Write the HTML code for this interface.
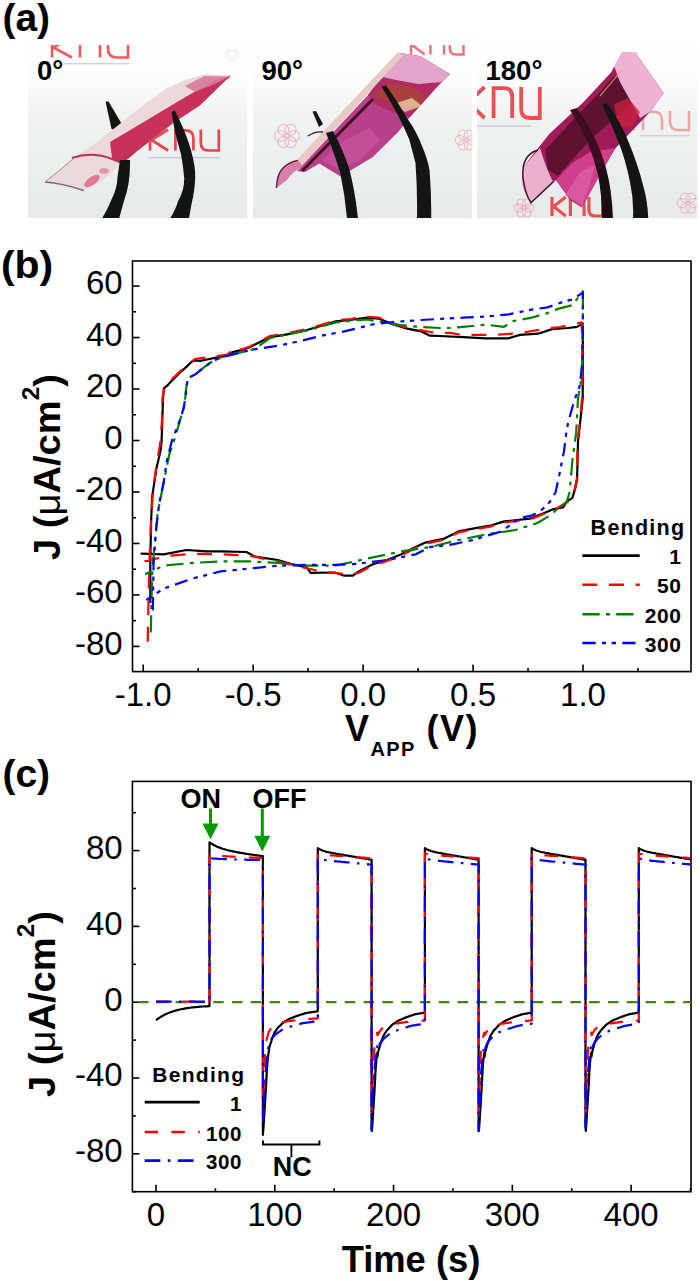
<!DOCTYPE html><html><head><meta charset="utf-8"><style>html,body{margin:0;padding:0;background:#fff;}svg{display:block;}text{font-family:"Liberation Sans",sans-serif;}</style></head><body>
<svg width="700" height="1281" viewBox="0 0 700 1281">
<rect width="700" height="1281" fill="#fff"/>
<text transform="translate(2.40,30.60) scale(1.0,1)" font-size="39" font-weight="bold" text-anchor="start" fill="#000" >(a)</text>
<defs>
<clipPath id="p1"><rect x="28" y="45" width="219.5" height="173"/></clipPath>
<clipPath id="p2"><rect x="253" y="45" width="219.5" height="173"/></clipPath>
<clipPath id="p3"><rect x="477" y="45" width="220.3" height="173"/></clipPath>
<linearGradient id="bg" x1="0" y1="0" x2="0" y2="1"><stop offset="0" stop-color="#ffffff"/><stop offset="0.18" stop-color="#fdfdfd"/><stop offset="0.4" stop-color="#f1f3f3"/><stop offset="1" stop-color="#e6eaea"/></linearGradient>
<linearGradient id="f1" gradientUnits="userSpaceOnUse" x1="140" y1="108" x2="158" y2="140"><stop offset="0" stop-color="#efe0e0"/><stop offset="0.45" stop-color="#ead0d4"/><stop offset="0.55" stop-color="#d2506e"/><stop offset="1" stop-color="#c23058"/></linearGradient>
<linearGradient id="tw" x1="0" y1="0" x2="1" y2="0"><stop offset="0" stop-color="#0c0c0c"/><stop offset="0.6" stop-color="#1e1e1e"/><stop offset="1" stop-color="#101010"/></linearGradient>
<linearGradient id="twl" gradientUnits="userSpaceOnUse" x1="0" y1="160" x2="0" y2="178"><stop offset="0" stop-color="#3c0c20"/><stop offset="1" stop-color="#161014"/></linearGradient>
</defs>
<g clip-path="url(#p1)">
<rect x="28" y="45" width="219.5" height="173" fill="url(#bg)"/>
<path d="M52.0,57.5 v-20.0 M72.0,37.5 L53.3,47.5 L72.0,57.5 M80.0,57.5 v-19.2 h11.0 q9.0,0 9.0,9.0 V57.5 M108.0,37.5 V48.5 q0,9.0 9.0,9.0 h11.0 v-20.0" fill="none" stroke="#e8474a" stroke-width="2.6" opacity="0.9"/>
<rect x="64" y="63" width="66" height="1.3" fill="#aab0c4" opacity="0.6"/>
<path d="M150.0,150.5 v-21.0 M168.1,129.5 L151.4,140.0 L168.1,150.5 M175.4,150.5 v-20.2 h9.9 q8.1,0 8.1,8.1 V150.5 M200.8,129.5 V142.4 q0,8.1 8.1,8.1 h9.9 v-21.0" fill="none" stroke="#e8474a" stroke-width="2.7" opacity="1.0"/>
<rect x="148" y="157" width="72" height="1.3" fill="#aab0c4" opacity="0.6"/>
<circle cx="232" cy="55" r="5" fill="none" stroke="#eaa" stroke-width="1" opacity="0.5"/>
<polygon points="105.5,101.5 108.5,101.5 124.5,128.5 118.0,131.0 111.5,129.0" fill="#141414" />
<polygon points="45.3,181.9 60.0,170.0 75.2,157.0 94.0,144.0 116.0,127.0 137.0,110.0 165.3,89.0 185.0,80.0 204.6,74.2 231.3,75.7 225.0,81.0 199.9,105.6 173.2,122.9 137.0,151.2 122.3,163.8 116.0,168.5 101.9,181.0 83.8,190.5 60.0,186.0" fill="#ecd9dc" />
<polygon points="110.0,142.0 137.0,126.0 184.2,97.7 215.0,80.0 231.3,75.7 225.0,81.0 199.9,105.6 173.2,122.9 137.0,151.2 122.3,163.8 112.0,158.0" fill="#c8325a" />
<polygon points="185.0,86.0 204.6,76.0 229.0,76.5 215.0,84.0 195.0,92.0" fill="#d87a96" opacity="0.9"/>
<path d="M72,158 Q92,151 112,159 L122,163" fill="none" stroke="#b83058" stroke-width="2"/>
<ellipse cx="92" cy="181" rx="9" ry="4" fill="#e0607e" opacity="0.8" transform="rotate(-35 92 181)"/>
<ellipse cx="104" cy="171" rx="5" ry="3" fill="#e07a92" opacity="0.7"/>
<path d="M45,182 Q62,183 83.8,190.5" fill="none" stroke="#7a6a70" stroke-width="1.5"/>
<path d="M45.3,181.9 L60,170 L75.2,157" fill="none" stroke="#a08890" stroke-width="1"/>
<path d="M120,160 L130,160 Q130.5,183 124.3,199.7 L119.1,218.5 L102,218.5 Q108,208 110.6,201.4 Q117.5,188 117.4,178 Z" fill="#141414" />
<path d="M171.6,111.9 L174.7,110.3 Q182,125 184.2,130.7 Q190,145 192,154.3 Q195.5,167 195.2,177.9 Q194.5,192 192,201.5 L188.9,218.5 L170,218.5 Q176,209 177.9,201.5 Q184.5,190 184.2,177.9 Q183,165 181,154.3 Q177,140 174.7,130.7 Z" fill="#141414" />
</g>
<g clip-path="url(#p2)">
<rect x="253" y="45" width="219.5" height="173" fill="url(#bg)"/>
<path d="M411.0,54.5 v-19.0 M424.7,35.5 L412.2,45.0 L424.7,54.5 M430.4,54.5 v-18.2 h7.5 q6.2,0 6.2,6.2 V54.5 M449.8,35.5 V48.3 q0,6.2 6.2,6.2 h7.5 v-19.0" fill="none" stroke="#e8474a" stroke-width="2.5" opacity="0.75"/>
<circle cx="294.1" cy="136.0" r="5.5" fill="none" stroke="#ec9aa2" stroke-width="1.2" opacity="0.6"/>
<circle cx="290.6" cy="142.2" r="5.5" fill="none" stroke="#ec9aa2" stroke-width="1.2" opacity="0.6"/>
<circle cx="283.4" cy="142.2" r="5.5" fill="none" stroke="#ec9aa2" stroke-width="1.2" opacity="0.6"/>
<circle cx="279.9" cy="136.0" r="5.5" fill="none" stroke="#ec9aa2" stroke-width="1.2" opacity="0.6"/>
<circle cx="283.4" cy="129.8" r="5.5" fill="none" stroke="#ec9aa2" stroke-width="1.2" opacity="0.6"/>
<circle cx="290.6" cy="129.8" r="5.5" fill="none" stroke="#ec9aa2" stroke-width="1.2" opacity="0.6"/>
<circle cx="472.1" cy="140.0" r="4.6" fill="none" stroke="#ec9aa2" stroke-width="1.2" opacity="0.5"/>
<circle cx="469.0" cy="145.2" r="4.6" fill="none" stroke="#ec9aa2" stroke-width="1.2" opacity="0.5"/>
<circle cx="463.0" cy="145.2" r="4.6" fill="none" stroke="#ec9aa2" stroke-width="1.2" opacity="0.5"/>
<circle cx="459.9" cy="140.0" r="4.6" fill="none" stroke="#ec9aa2" stroke-width="1.2" opacity="0.5"/>
<circle cx="463.0" cy="134.8" r="4.6" fill="none" stroke="#ec9aa2" stroke-width="1.2" opacity="0.5"/>
<circle cx="469.0" cy="134.8" r="4.6" fill="none" stroke="#ec9aa2" stroke-width="1.2" opacity="0.5"/>
<polygon points="297.0,171.0 340.0,125.0 372.0,90.7 396.0,65.0 420.0,70.0 436.0,88.0 410.0,117.0 398.6,131.4 372.9,157.1 340.7,176.4 319.3,163.6 305.0,172.0" fill="#b8408a" />
<polygon points="322.0,160.0 345.0,140.0 370.0,128.0 380.0,140.0 360.0,160.0 340.0,170.0" fill="#c85aa0" opacity="0.6"/>
<polygon points="368.0,95.0 380.0,78.0 400.0,53.0 420.0,56.0 450.0,74.0 436.0,88.0 410.0,117.0 392.0,112.0 375.0,104.0" fill="#b02a64" />
<polygon points="378.0,76.0 400.0,53.0 420.0,56.0 450.0,74.0 442.0,82.0 418.0,84.0 396.0,80.0" fill="#e2a4c8" />
<polygon points="372.0,96.0 388.0,84.0 410.0,86.0 425.0,96.0 418.0,108.0 400.0,104.0" fill="#a8482e" opacity="0.7"/>
<polygon points="393.0,104.0 412.0,98.0 422.0,106.0 405.0,112.0" fill="#f0d8a8" opacity="0.75"/>
<polygon points="292.0,165.0 398.0,52.0 403.0,55.5 297.0,171.0" fill="#e8cac6" />
<path d="M302,171 L373,99" stroke="#40121e" stroke-width="3"/>
<path d="M276.4,188 Q277,174 283,168 Q289,162 297.9,160.4 L303,166 Q292,172 287,180 Z" fill="#d878a8" opacity="0.95"/>
<path d="M276.4,188 Q277,174 283,168 Q289,162 297.9,160.4" fill="none" stroke="#5a1a34" stroke-width="1.4"/>
<path d="M308,136 Q315,131 323,132" fill="none" stroke="#3a1a24" stroke-width="1.3"/>
<polygon points="312.5,111.5 316.0,111.0 323.0,124.0 319.0,127.0" fill="#141414" />
<path d="M326,133 L333,131 Q343,150 349,168 Q355,190 358,218.5 L347,218.5 Q345,195 340,172 Q333,150 326,133 Z" fill="#141414" />
<path d="M381.4,86.4 L386,85.5 Q398,102 407.6,118.9 Q417,132 421.8,145.6 Q428,160 429.6,170.8 Q431.5,195 431.2,218.5 L417,218.5 Q417.5,190 415.5,162.9 Q412,150 409.2,139.3 Q404,127 398.2,115.8 Q390,100 381.4,86.4 Z" fill="#141414" />
</g>
<g clip-path="url(#p3)">
<rect x="477" y="45" width="220.3" height="173" fill="url(#bg)"/>
<path d="M466.0,118.0 v-31.0 M484.6,87.0 L467.9,102.5 L484.6,118.0 M493.6,118.0 v-29.8 h10.2 q8.4,0 8.4,8.4 V118.0 M521.2,87.0 V109.6 q0,8.4 8.4,8.4 h10.2 v-31.0" fill="none" stroke="#e8474a" stroke-width="3.8" opacity="0.95"/>
<rect x="477" y="125.5" width="54" height="1.3" fill="#aab0c4" opacity="0.6"/>
<path d="M616.0,130.0 v-19.0 M635.0,111.0 L617.2,120.5 L635.0,130.0 M643.0,130.0 v-18.2 h10.4 q8.6,0 8.6,8.6 V130.0 M670.0,111.0 V121.5 q0,8.6 8.6,8.6 h10.4 v-19.0" fill="none" stroke="#f09a9a" stroke-width="2.5" opacity="0.9"/>
<rect x="640" y="135" width="50" height="1.2" fill="#aab0c4" opacity="0.5"/>
<path d="M552.0,216.0 v-19.0 M565.7,197.0 L553.6,206.5 L565.7,216.0 M570.4,216.0 v-18.2 h7.5 q6.2,0 6.2,6.2 V216.0 M588.9,197.0 V209.8 q0,6.2 6.2,6.2 h7.5 v-19.0" fill="none" stroke="#e8474a" stroke-width="3.2" opacity="0.95"/>
<circle cx="529.5" cy="208.0" r="4.2" fill="none" stroke="#ec9aa2" stroke-width="1.2" opacity="0.6"/>
<circle cx="526.8" cy="212.8" r="4.2" fill="none" stroke="#ec9aa2" stroke-width="1.2" opacity="0.6"/>
<circle cx="521.2" cy="212.8" r="4.2" fill="none" stroke="#ec9aa2" stroke-width="1.2" opacity="0.6"/>
<circle cx="518.5" cy="208.0" r="4.2" fill="none" stroke="#ec9aa2" stroke-width="1.2" opacity="0.6"/>
<circle cx="521.2" cy="203.2" r="4.2" fill="none" stroke="#ec9aa2" stroke-width="1.2" opacity="0.6"/>
<circle cx="526.8" cy="203.2" r="4.2" fill="none" stroke="#ec9aa2" stroke-width="1.2" opacity="0.6"/>
<circle cx="694.0" cy="203.0" r="4.6" fill="none" stroke="#ec9aa2" stroke-width="1.2" opacity="0.5"/>
<circle cx="691.0" cy="208.2" r="4.6" fill="none" stroke="#ec9aa2" stroke-width="1.2" opacity="0.5"/>
<circle cx="685.0" cy="208.2" r="4.6" fill="none" stroke="#ec9aa2" stroke-width="1.2" opacity="0.5"/>
<circle cx="682.0" cy="203.0" r="4.6" fill="none" stroke="#ec9aa2" stroke-width="1.2" opacity="0.5"/>
<circle cx="685.0" cy="197.8" r="4.6" fill="none" stroke="#ec9aa2" stroke-width="1.2" opacity="0.5"/>
<circle cx="691.0" cy="197.8" r="4.6" fill="none" stroke="#ec9aa2" stroke-width="1.2" opacity="0.5"/>
<polygon points="524.0,166.0 535.0,152.0 549.3,134.1 583.6,102.1 611.0,72.4 622.4,51.9 635.0,52.0 663.6,93.0 650.0,112.0 615.6,147.9 595.0,180.0 583.6,205.0 581.3,207.3 570.0,200.0 556.0,180.0 540.0,195.0 531.0,202.7 524.0,185.0" fill="#a01c58" />
<polygon points="545.0,150.0 575.0,118.0 600.0,92.0 614.0,76.0 626.0,84.0 634.0,100.0 615.0,118.0 590.0,140.0 572.0,160.0 558.0,176.0 548.0,170.0" fill="#5e1230" />
<polygon points="614.0,66.0 622.4,51.9 635.0,52.0 663.6,93.0 650.0,112.0 640.0,118.0 630.0,100.0 620.0,82.0" fill="#eeb2d4" />
<polygon points="614.0,104.0 628.0,98.0 640.0,112.0 632.0,128.0 618.0,126.0" fill="#c8203c" opacity="0.75"/>
<path d="M600,96 L622,70" stroke="#d8b070" stroke-width="1.2" opacity="0.7"/>
<polygon points="556.0,180.0 572.0,163.0 590.0,152.0 615.6,147.9 600.0,175.0 583.6,205.0 581.3,207.3 570.0,199.0" fill="#cf3f8c" />
<polygon points="565.0,195.0 580.0,172.0 595.0,165.0 588.0,190.0 582.0,205.0" fill="#de64a6" opacity="0.7"/>
<path d="M524,166 Q517,186 531,202.7 L553,182 Q546,168 540,148 Z" fill="#eab0cc" />
<path d="M538,150 Q521,155 523,178 Q525,194 531,202.7 L553,182" fill="none" stroke="#3a1024" stroke-width="1.5"/>
<path d="M570,110 L577,108 Q598,138 606,168 Q612,190 613,218.5 L602,218.5 Q602,195 598,175 Q590,140 570,110 Z" fill="url(#twl)" />
<path d="M601.9,104 L607,103.5 Q622,124 629,143 Q638,165 643,185 Q647.5,200 648.3,218.5 L633,218.5 Q634,200 630,182 Q626,162 620,146 Q612,125 601.9,104 Z" fill="#141414" />
</g>
<text transform="translate(37.00,80.00) scale(1.0,1)" font-size="27.5" font-weight="bold" text-anchor="start" fill="#000" >0&#176;</text>
<text transform="translate(261.50,80.00) scale(1.0,1)" font-size="27.5" font-weight="bold" text-anchor="start" fill="#000" >90&#176;</text>
<text transform="translate(485.50,80.00) scale(1.0,1)" font-size="27.5" font-weight="bold" text-anchor="start" fill="#000" >180&#176;</text>
<text transform="translate(0.90,278.40) scale(1.05,1)" font-size="39" font-weight="bold" text-anchor="start" fill="#000" >(b)</text>
<rect x="132.5" y="261.0" width="558.5" height="410.6" fill="none" stroke="#000" stroke-width="1.6"/>
<line x1="143.20" y1="671.60" x2="143.20" y2="664.60" stroke="#000" stroke-width="1.6"/>
<line x1="253.15" y1="671.60" x2="253.15" y2="664.60" stroke="#000" stroke-width="1.6"/>
<line x1="363.10" y1="671.60" x2="363.10" y2="664.60" stroke="#000" stroke-width="1.6"/>
<line x1="473.05" y1="671.60" x2="473.05" y2="664.60" stroke="#000" stroke-width="1.6"/>
<line x1="583.00" y1="671.60" x2="583.00" y2="664.60" stroke="#000" stroke-width="1.6"/>
<line x1="198.18" y1="671.60" x2="198.18" y2="668.10" stroke="#000" stroke-width="1.6"/>
<line x1="308.12" y1="671.60" x2="308.12" y2="668.10" stroke="#000" stroke-width="1.6"/>
<line x1="418.08" y1="671.60" x2="418.08" y2="668.10" stroke="#000" stroke-width="1.6"/>
<line x1="528.03" y1="671.60" x2="528.03" y2="668.10" stroke="#000" stroke-width="1.6"/>
<line x1="637.98" y1="671.60" x2="637.98" y2="668.10" stroke="#000" stroke-width="1.6"/>
<line x1="132.50" y1="646.42" x2="139.50" y2="646.42" stroke="#000" stroke-width="1.6"/>
<line x1="132.50" y1="594.94" x2="139.50" y2="594.94" stroke="#000" stroke-width="1.6"/>
<line x1="132.50" y1="543.46" x2="139.50" y2="543.46" stroke="#000" stroke-width="1.6"/>
<line x1="132.50" y1="491.98" x2="139.50" y2="491.98" stroke="#000" stroke-width="1.6"/>
<line x1="132.50" y1="440.50" x2="139.50" y2="440.50" stroke="#000" stroke-width="1.6"/>
<line x1="132.50" y1="389.02" x2="139.50" y2="389.02" stroke="#000" stroke-width="1.6"/>
<line x1="132.50" y1="337.54" x2="139.50" y2="337.54" stroke="#000" stroke-width="1.6"/>
<line x1="132.50" y1="286.06" x2="139.50" y2="286.06" stroke="#000" stroke-width="1.6"/>
<line x1="132.50" y1="620.68" x2="136.00" y2="620.68" stroke="#000" stroke-width="1.6"/>
<line x1="132.50" y1="569.20" x2="136.00" y2="569.20" stroke="#000" stroke-width="1.6"/>
<line x1="132.50" y1="517.72" x2="136.00" y2="517.72" stroke="#000" stroke-width="1.6"/>
<line x1="132.50" y1="466.24" x2="136.00" y2="466.24" stroke="#000" stroke-width="1.6"/>
<line x1="132.50" y1="414.76" x2="136.00" y2="414.76" stroke="#000" stroke-width="1.6"/>
<line x1="132.50" y1="363.28" x2="136.00" y2="363.28" stroke="#000" stroke-width="1.6"/>
<line x1="132.50" y1="311.80" x2="136.00" y2="311.80" stroke="#000" stroke-width="1.6"/>
<text transform="translate(122.60,654.82) scale(1.0,1)" font-size="33" font-weight="normal" text-anchor="end" fill="#000" >-80</text>
<text transform="translate(122.60,603.34) scale(1.0,1)" font-size="33" font-weight="normal" text-anchor="end" fill="#000" >-60</text>
<text transform="translate(122.60,551.86) scale(1.0,1)" font-size="33" font-weight="normal" text-anchor="end" fill="#000" >-40</text>
<text transform="translate(122.60,500.38) scale(1.0,1)" font-size="33" font-weight="normal" text-anchor="end" fill="#000" >-20</text>
<text transform="translate(122.60,448.90) scale(1.0,1)" font-size="33" font-weight="normal" text-anchor="end" fill="#000" >0</text>
<text transform="translate(122.60,397.42) scale(1.0,1)" font-size="33" font-weight="normal" text-anchor="end" fill="#000" >20</text>
<text transform="translate(122.60,345.94) scale(1.0,1)" font-size="33" font-weight="normal" text-anchor="end" fill="#000" >40</text>
<text transform="translate(122.60,294.46) scale(1.0,1)" font-size="33" font-weight="normal" text-anchor="end" fill="#000" >60</text>
<text transform="translate(143.20,705.50) scale(1.0,1)" font-size="33" font-weight="normal" text-anchor="middle" fill="#000" >-1.0</text>
<text transform="translate(253.15,705.50) scale(1.0,1)" font-size="33" font-weight="normal" text-anchor="middle" fill="#000" >-0.5</text>
<text transform="translate(363.10,705.50) scale(1.0,1)" font-size="33" font-weight="normal" text-anchor="middle" fill="#000" >0.0</text>
<text transform="translate(473.05,705.50) scale(1.0,1)" font-size="33" font-weight="normal" text-anchor="middle" fill="#000" >0.5</text>
<text transform="translate(583.00,705.50) scale(1.0,1)" font-size="33" font-weight="normal" text-anchor="middle" fill="#000" >1.0</text>
<text transform="translate(345.00,741.00) scale(1.0,1)" font-size="36" font-weight="bold" text-anchor="start" fill="#000" >V</text>
<text transform="translate(370.50,755.60) scale(1.0,1)" font-size="20" font-weight="bold" text-anchor="start" fill="#000" letter-spacing="1.3">APP</text>
<text transform="translate(426.50,741.00) scale(1.0,1)" font-size="36" font-weight="bold" text-anchor="start" fill="#000" letter-spacing="1.5">(V)</text>
<g transform="translate(60,467) rotate(-90) scale(1.06,1)">
<text x="0" y="0" font-size="36" font-weight="bold" text-anchor="middle">J (<tspan font-weight="normal">&#956;</tspan>A/cm<tspan font-size="23" dy="-21">2</tspan><tspan dy="21">)</tspan></text>
</g>
<polyline points="150.3,603.0 150.3,560.0 151.2,520.0 152.1,497.1 156.4,468.6 160.7,450.0 161.6,441.4 163.0,398.6 163.8,388.3 167.2,385.7 171.9,380.6 179.6,372.9 186.4,366.9 191.6,361.7 195.0,360.5 200.1,360.9 207.0,359.5 217.3,357.4 227.6,355.7 232.7,352.0 241.3,350.2 250.0,347.1 270.0,337.1 287.1,334.3 307.1,330.0 321.4,325.7 335.7,321.4 350.0,320.0 367.1,317.7 378.6,318.6 392.9,324.3 407.1,328.6 421.4,331.4 430.0,335.7 440.0,336.0 462.9,337.1 485.7,338.3 508.6,338.3 520.0,334.9 538.3,333.7 552.0,329.1 568.0,328.0 577.1,326.9 582.9,323.4 582.7,398.7 579.9,424.9 578.0,441.7 577.1,479.2 575.2,488.5 572.4,497.9 566.8,501.6 563.1,507.3 553.7,509.1 544.3,512.9 535.0,516.6 530.0,518.6 504.3,521.4 490.0,525.7 472.9,528.6 458.6,531.4 444.3,538.6 424.3,542.9 415.7,547.1 401.4,554.3 387.1,560.0 372.9,564.3 358.6,571.4 352.9,575.7 344.3,575.7 335.0,572.5 310.7,572.9 306.4,567.1 292.1,564.3 277.9,560.0 255.0,556.6 246.4,552.0 220.7,551.4 206.4,551.4 186.4,550.0 163.6,554.3 140.7,553.7" fill="none" stroke="#000" stroke-width="2.2" stroke-linejoin="round" />
<polyline points="147.7,641.7 148.5,600.0 149.5,560.0 151.0,520.0 153.0,490.0 157.0,462.0 160.0,445.0 162.0,420.0 162.5,398.0 165.0,386.0 170.0,381.0 179.6,371.9 186.4,365.9 195.0,359.0 207.0,357.5 217.3,356.0 227.6,354.5 235.0,347.0 241.3,349.5 250.0,346.5 270.0,336.0 287.1,333.3 307.1,329.0 321.4,324.7 335.7,320.4 350.0,319.0 367.1,316.7 378.6,317.6 392.9,323.3 407.1,327.6 421.4,330.4 435.7,332.9 450.0,332.9 462.9,335.0 494.9,334.9 520.0,333.0 542.9,329.1 560.0,327.0 572.6,324.6 581.7,322.3 582.5,360.0 582.0,398.7 579.5,424.9 577.6,441.7 576.8,479.2 574.8,488.5 572.0,497.9 566.8,502.5 553.7,510.0 535.0,517.5 530.0,519.5 504.3,522.4 490.0,526.7 472.9,529.6 458.6,532.4 444.3,539.6 424.3,543.9 401.4,555.3 387.1,561.0 372.9,565.3 358.6,572.9 344.3,574.0 320.7,571.4 295.0,565.7 277.9,561.4 249.3,555.7 220.7,554.3 192.1,553.7 169.3,555.7 143.6,561.4" fill="none" stroke="#f00" stroke-width="2.2" stroke-dasharray="14.9,11.7" stroke-linejoin="round" />
<polyline points="150.8,632.5 151.5,600.0 152.1,574.3 155.0,540.0 157.9,511.4 163.6,482.9 169.3,454.3 174.4,439.7 180.4,419.1 183.9,407.1 185.6,395.1 186.4,386.6 188.1,378.0 195.0,374.6 203.6,367.7 210.4,362.6 220.7,357.4 237.9,353.1 255.0,348.9 270.0,338.0 287.0,334.5 307.0,330.5 321.0,326.5 336.0,322.5 350.0,321.0 367.0,319.5 378.6,321.4 392.9,324.3 421.4,327.1 440.0,328.0 451.4,328.0 462.9,326.9 485.7,324.6 504.0,326.9 513.1,321.1 531.4,317.7 547.4,313.1 558.9,308.6 572.6,305.1 581.7,292.6 582.9,291.4 582.9,330.0 581.8,376.2 578.0,398.7 576.2,432.4 572.4,460.4 569.6,492.3 566.8,501.6 557.5,509.1 548.1,516.6 538.7,522.2 529.4,526.0 520.0,527.9 515.7,530.0 487.1,534.3 458.6,540.0 430.0,547.1 401.4,551.4 367.1,558.6 335.0,565.7 306.4,565.7 277.9,562.9 249.3,561.4 220.7,561.4 192.1,562.9 163.6,565.7 145.0,574.3" fill="none" stroke="#008000" stroke-width="2.2" stroke-dasharray="17.3,6.3,3.9,6.3" stroke-linejoin="round" />
<polyline points="152.8,610.2 153.6,562.9 156.4,525.7 159.3,502.9 163.6,482.9 166.4,462.9 172.1,440.0 177.0,428.0 181.0,417.0 183.9,407.1 185.6,395.1 186.4,386.6 188.1,378.0 195.0,374.6 203.6,367.7 210.4,362.6 220.7,357.4 237.9,353.1 250.0,350.0 278.6,345.7 298.6,341.4 321.4,335.7 344.3,331.4 358.6,328.0 372.9,324.3 392.9,322.0 421.4,320.0 440.0,318.9 462.9,317.7 485.7,316.6 508.6,314.3 531.4,309.7 547.4,307.4 563.4,301.7 572.6,299.4 579.4,294.9 582.9,292.6 582.7,357.5 579.9,385.5 574.3,400.5 570.6,413.6 566.8,428.6 564.0,451.1 560.3,469.8 555.6,492.3 550.0,501.6 540.6,511.0 531.2,515.7 520.0,518.0 501.4,531.4 472.9,540.0 450.0,544.9 430.0,547.1 415.7,554.3 387.1,560.0 358.6,563.7 335.0,564.9 306.4,564.9 277.9,565.7 249.3,568.6 220.7,571.4 192.1,578.6 163.6,588.6 146.4,600.0" fill="none" stroke="#00f" stroke-width="2.2" stroke-dasharray="13.3,6.3,4,5.6,4.4,6.3" stroke-linejoin="round" />
<text transform="translate(590.60,535.30) scale(1.0,1)" font-size="21.5" font-weight="bold" text-anchor="start" fill="#000" letter-spacing="1.25">Bending</text>
<polyline points="582.4,555.6 639.7,555.6" fill="none" stroke="#000" stroke-width="2.6" stroke-linejoin="round" />
<text transform="translate(681.60,564.30) scale(1.0,1)" font-size="21" font-weight="bold" text-anchor="end" fill="#000" letter-spacing="0.6">1</text>
<polyline points="582.4,584.7 639.7,584.7" fill="none" stroke="#f00" stroke-width="2.6" stroke-dasharray="14.9,11.7" stroke-linejoin="round" />
<text transform="translate(681.60,593.40) scale(1.0,1)" font-size="21" font-weight="bold" text-anchor="end" fill="#000" letter-spacing="0.6">50</text>
<polyline points="582.4,614.2 639.7,614.2" fill="none" stroke="#008000" stroke-width="2.6" stroke-dasharray="17.3,6.3,3.9,6.3" stroke-linejoin="round" />
<text transform="translate(681.60,622.90) scale(1.0,1)" font-size="21" font-weight="bold" text-anchor="end" fill="#000" letter-spacing="0.6">200</text>
<polyline points="582.4,643.0 639.7,643.0" fill="none" stroke="#00f" stroke-width="2.6" stroke-dasharray="13.3,6.3,4,5.6,4.4,6.3" stroke-linejoin="round" />
<text transform="translate(681.60,651.70) scale(1.0,1)" font-size="21" font-weight="bold" text-anchor="end" fill="#000" letter-spacing="0.6">300</text>
<text transform="translate(2.40,787.00) scale(1.0,1)" font-size="39" font-weight="bold" text-anchor="start" fill="#000" >(c)</text>
<rect x="132.4" y="781.4" width="558.6" height="410.30000000000007" fill="none" stroke="#000" stroke-width="1.6"/>
<line x1="156.00" y1="1191.70" x2="156.00" y2="1184.70" stroke="#000" stroke-width="1.6"/>
<line x1="274.78" y1="1191.70" x2="274.78" y2="1184.70" stroke="#000" stroke-width="1.6"/>
<line x1="393.56" y1="1191.70" x2="393.56" y2="1184.70" stroke="#000" stroke-width="1.6"/>
<line x1="512.34" y1="1191.70" x2="512.34" y2="1184.70" stroke="#000" stroke-width="1.6"/>
<line x1="631.12" y1="1191.70" x2="631.12" y2="1184.70" stroke="#000" stroke-width="1.6"/>
<line x1="215.39" y1="1191.70" x2="215.39" y2="1188.20" stroke="#000" stroke-width="1.6"/>
<line x1="334.17" y1="1191.70" x2="334.17" y2="1188.20" stroke="#000" stroke-width="1.6"/>
<line x1="452.95" y1="1191.70" x2="452.95" y2="1188.20" stroke="#000" stroke-width="1.6"/>
<line x1="571.73" y1="1191.70" x2="571.73" y2="1188.20" stroke="#000" stroke-width="1.6"/>
<line x1="690.51" y1="1191.70" x2="690.51" y2="1188.20" stroke="#000" stroke-width="1.6"/>
<line x1="132.40" y1="1153.80" x2="139.40" y2="1153.80" stroke="#000" stroke-width="1.6"/>
<line x1="132.40" y1="1078.00" x2="139.40" y2="1078.00" stroke="#000" stroke-width="1.6"/>
<line x1="132.40" y1="1002.20" x2="139.40" y2="1002.20" stroke="#000" stroke-width="1.6"/>
<line x1="132.40" y1="926.40" x2="139.40" y2="926.40" stroke="#000" stroke-width="1.6"/>
<line x1="132.40" y1="850.60" x2="139.40" y2="850.60" stroke="#000" stroke-width="1.6"/>
<line x1="132.40" y1="1191.70" x2="135.90" y2="1191.70" stroke="#000" stroke-width="1.6"/>
<line x1="132.40" y1="1115.90" x2="135.90" y2="1115.90" stroke="#000" stroke-width="1.6"/>
<line x1="132.40" y1="1040.10" x2="135.90" y2="1040.10" stroke="#000" stroke-width="1.6"/>
<line x1="132.40" y1="964.30" x2="135.90" y2="964.30" stroke="#000" stroke-width="1.6"/>
<line x1="132.40" y1="888.50" x2="135.90" y2="888.50" stroke="#000" stroke-width="1.6"/>
<line x1="132.40" y1="812.70" x2="135.90" y2="812.70" stroke="#000" stroke-width="1.6"/>
<text transform="translate(122.60,1162.20) scale(1.0,1)" font-size="33" font-weight="normal" text-anchor="end" fill="#000" >-80</text>
<text transform="translate(122.60,1086.40) scale(1.0,1)" font-size="33" font-weight="normal" text-anchor="end" fill="#000" >-40</text>
<text transform="translate(122.60,1010.60) scale(1.0,1)" font-size="33" font-weight="normal" text-anchor="end" fill="#000" >0</text>
<text transform="translate(122.60,934.80) scale(1.0,1)" font-size="33" font-weight="normal" text-anchor="end" fill="#000" >40</text>
<text transform="translate(122.60,859.00) scale(1.0,1)" font-size="33" font-weight="normal" text-anchor="end" fill="#000" >80</text>
<text transform="translate(156.00,1226.00) scale(1.0,1)" font-size="33" font-weight="normal" text-anchor="middle" fill="#000" >0</text>
<text transform="translate(274.78,1226.00) scale(1.0,1)" font-size="33" font-weight="normal" text-anchor="middle" fill="#000" >100</text>
<text transform="translate(393.56,1226.00) scale(1.0,1)" font-size="33" font-weight="normal" text-anchor="middle" fill="#000" >200</text>
<text transform="translate(512.34,1226.00) scale(1.0,1)" font-size="33" font-weight="normal" text-anchor="middle" fill="#000" >300</text>
<text transform="translate(631.12,1226.00) scale(1.0,1)" font-size="33" font-weight="normal" text-anchor="middle" fill="#000" >400</text>
<text transform="translate(411.00,1272.00) scale(1.01,1)" font-size="36" font-weight="bold" text-anchor="middle" fill="#000" >Time (s)</text>
<g transform="translate(54.5,1004) rotate(-90) scale(1.06,1)">
<text x="0" y="0" font-size="36" font-weight="bold" text-anchor="middle">J (<tspan font-weight="normal">&#956;</tspan>A/cm<tspan font-size="23" dy="-21">2</tspan><tspan dy="21">)</tspan></text>
</g>
<line x1="138" y1="1002.2" x2="691.0" y2="1002.2" stroke="#3f8418" stroke-width="2.2" stroke-dasharray="10.5,8.3"/>
<polyline points="156.0,1020.2 157.2,1019.3 158.4,1018.4 159.6,1017.6 160.8,1016.9 161.9,1016.2 163.1,1015.5 164.3,1014.9 165.5,1014.3 166.7,1013.8 167.9,1013.2 169.1,1012.8 170.3,1012.3 171.4,1011.9 172.6,1011.5 173.8,1011.1 175.0,1010.7 176.2,1010.4 177.4,1010.1 178.6,1009.8 179.8,1009.5 180.9,1009.3 182.1,1009.0 183.3,1008.8 184.5,1008.6 185.7,1008.4 186.9,1008.2 188.1,1008.0 189.3,1007.8 190.4,1007.7 191.6,1007.5 192.8,1007.4 194.0,1007.3 195.2,1007.1 196.4,1007.0 197.6,1006.9 198.8,1006.8 199.9,1006.7 201.1,1006.6 202.3,1006.5 203.5,1006.5 204.7,1006.4 205.9,1006.3 207.1,1006.3 208.3,1006.2 209.5,1006.1 209.5,842.3 210.6,843.1 211.8,843.8 213.0,844.5 214.2,845.2 215.4,845.8 216.6,846.4 217.8,846.9 219.0,847.4 220.1,847.8 221.3,848.3 222.5,848.7 223.7,849.0 224.9,849.4 226.1,849.7 227.3,850.0 228.5,850.4 229.6,850.6 230.8,850.9 232.0,851.2 233.2,851.4 234.4,851.7 235.6,851.9 236.8,852.2 238.0,852.4 239.1,852.6 240.3,852.8 241.5,853.0 242.7,853.2 243.9,853.4 245.1,853.6 246.3,853.8 247.5,854.0 248.6,854.2 249.8,854.3 251.0,854.5 252.2,854.7 253.4,854.9 254.6,855.0 255.8,855.2 257.0,855.4 258.2,855.5 259.3,855.7 260.5,855.9 261.7,856.0 262.9,856.2 262.9,1134.9 263.2,1131.0 263.5,1127.2 263.8,1122.5 264.1,1117.7 264.4,1113.0 264.7,1108.2 265.0,1103.4 265.3,1098.7 265.6,1093.9 265.9,1089.1 266.2,1083.2 266.5,1077.2 266.8,1071.3 267.1,1067.2 267.4,1063.5 267.7,1059.7 268.0,1057.1 268.3,1055.0 268.6,1052.9 268.9,1050.7 269.2,1048.6 269.5,1046.6 269.8,1045.7 270.1,1044.8 270.4,1043.9 270.7,1043.0 271.0,1042.1 271.3,1041.2 271.6,1040.3 271.8,1039.3 272.1,1038.4 272.4,1037.6 272.7,1036.9 273.0,1036.2 273.3,1035.5 273.6,1034.8 273.9,1034.1 274.2,1033.4 274.5,1032.7 274.8,1032.1 275.1,1031.6 275.4,1031.2 275.7,1030.8 276.0,1030.4 276.3,1030.0 276.6,1029.5 276.9,1029.1 277.2,1028.7 277.5,1028.3 277.8,1027.9 278.1,1027.5 278.4,1027.3 278.7,1027.0 279.0,1026.7 279.3,1026.4 279.6,1026.1 279.9,1025.8 280.2,1025.5 280.5,1025.2 280.8,1025.0 281.1,1024.7 281.4,1024.4 281.7,1024.1 282.0,1023.8 282.3,1023.5 282.6,1023.2 282.9,1022.9 283.2,1022.7 283.5,1022.4 283.8,1022.2 284.1,1022.0 284.4,1021.8 284.7,1021.6 285.0,1021.4 285.3,1021.3 285.6,1021.1 285.9,1020.9 286.2,1020.7 286.5,1020.6 286.8,1020.4 287.1,1020.2 287.4,1020.0 287.7,1019.8 288.0,1019.7 288.3,1019.5 288.6,1019.3 288.8,1019.1 289.1,1019.0 289.4,1018.8 289.7,1018.7 290.0,1018.6 290.3,1018.5 290.6,1018.4 290.9,1018.2 291.2,1018.1 291.5,1018.0 291.8,1017.9 292.1,1017.8 292.4,1017.7 292.7,1017.6 293.0,1017.5 293.3,1017.3 293.6,1017.2 293.9,1017.1 294.2,1017.0 294.5,1016.9 294.8,1016.8 295.1,1016.7 295.4,1016.6 295.7,1016.4 296.0,1016.3 296.3,1016.2 296.6,1016.1 296.9,1016.0 297.2,1015.9 297.5,1015.8 297.8,1015.7 298.1,1015.5 298.4,1015.4 298.7,1015.3 299.0,1015.3 299.3,1015.2 299.6,1015.1 299.9,1015.0 300.2,1014.9 300.5,1014.8 300.8,1014.7 301.1,1014.6 301.4,1014.5 301.7,1014.4 302.0,1014.3 302.3,1014.2 302.6,1014.1 302.9,1014.1 303.2,1014.0 303.5,1013.9 303.8,1013.8 304.1,1013.7 304.4,1013.6 304.7,1013.5 305.0,1013.4 305.3,1013.3 305.6,1013.2 305.8,1013.1 306.1,1013.0 306.4,1013.0 306.7,1012.9 307.0,1012.9 307.3,1012.8 307.6,1012.8 307.9,1012.7 308.2,1012.7 308.5,1012.7 308.8,1012.6 309.1,1012.6 309.4,1012.5 309.7,1012.5 310.0,1012.4 310.3,1012.4 310.6,1012.3 310.9,1012.3 311.2,1012.3 311.5,1012.2 311.8,1012.2 312.1,1012.1 312.4,1012.1 312.7,1012.0 313.0,1012.0 313.3,1011.9 313.6,1011.9 313.9,1011.8 314.2,1011.8 314.5,1011.8 314.8,1011.7 315.1,1011.7 315.4,1011.6 315.7,1011.6 316.0,1011.5 316.3,1011.5 316.6,1011.4 316.9,1011.4 317.2,1011.4 317.5,1011.3 317.8,1011.3 317.8,848.1 319.0,848.9 320.2,849.5 321.4,850.1 322.6,850.6 323.8,851.0 325.0,851.3 326.1,851.7 327.3,852.0 328.5,852.2 329.7,852.5 330.9,852.7 332.1,853.0 333.3,853.2 334.5,853.4 335.7,853.6 336.9,853.9 338.1,854.1 339.3,854.3 340.5,854.5 341.7,854.7 342.9,854.9 344.1,855.1 345.3,855.3 346.5,855.5 347.7,855.7 348.9,855.9 350.1,856.1 351.3,856.3 352.5,856.5 353.6,856.7 354.8,856.9 356.0,857.1 357.2,857.3 358.4,857.5 359.6,857.7 360.8,857.9 362.0,858.1 363.2,858.3 364.4,858.5 365.6,858.7 366.8,858.9 368.0,859.2 369.2,859.4 370.4,859.6 371.6,859.7 371.6,1130.1 371.9,1131.0 372.2,1127.2 372.5,1122.5 372.8,1117.7 373.1,1113.0 373.4,1108.2 373.7,1103.5 374.0,1098.7 374.3,1094.0 374.6,1089.2 374.9,1083.2 375.2,1077.3 375.5,1071.3 375.8,1067.3 376.1,1063.5 376.4,1059.8 376.7,1057.1 376.9,1055.0 377.2,1052.9 377.5,1056.6 377.8,1054.3 378.1,1052.0 378.4,1051.0 378.7,1050.0 379.0,1048.9 379.3,1047.9 379.6,1046.9 379.9,1045.9 380.2,1044.9 380.5,1043.8 380.8,1042.8 381.1,1041.9 381.4,1041.1 381.7,1040.3 382.0,1039.6 382.3,1038.8 382.6,1038.0 382.9,1037.2 383.2,1036.4 383.5,1035.7 383.8,1035.2 384.1,1034.7 384.4,1034.3 384.7,1033.8 385.0,1033.3 385.3,1032.8 385.6,1032.4 385.9,1031.9 386.2,1031.4 386.5,1031.0 386.8,1030.6 387.1,1030.3 387.4,1030.0 387.7,1029.6 388.0,1029.3 388.3,1029.0 388.6,1028.7 388.9,1028.4 389.2,1028.0 389.5,1027.7 389.8,1027.4 390.1,1027.1 390.4,1026.7 390.7,1026.4 391.0,1026.1 391.3,1025.8 391.5,1025.5 391.8,1025.1 392.1,1024.8 392.4,1024.6 392.7,1024.4 393.0,1024.2 393.3,1024.0 393.6,1023.8 393.9,1023.6 394.2,1023.4 394.5,1023.2 394.8,1023.0 395.1,1022.8 395.4,1022.6 395.7,1022.4 396.0,1022.2 396.3,1022.0 396.6,1021.8 396.9,1021.6 397.2,1021.4 397.5,1021.2 397.8,1021.0 398.1,1020.8 398.4,1020.7 398.7,1020.6 399.0,1020.4 399.3,1020.3 399.6,1020.2 399.9,1020.1 400.2,1019.9 400.5,1019.8 400.8,1019.7 401.1,1019.6 401.4,1019.4 401.7,1019.3 402.0,1019.2 402.3,1019.0 402.6,1018.9 402.9,1018.8 403.2,1018.7 403.5,1018.5 403.8,1018.4 404.1,1018.3 404.4,1018.2 404.7,1018.0 405.0,1017.9 405.3,1017.8 405.6,1017.7 405.8,1017.5 406.1,1017.4 406.4,1017.3 406.7,1017.2 407.0,1017.0 407.3,1016.9 407.6,1016.8 407.9,1016.7 408.2,1016.6 408.5,1016.5 408.8,1016.4 409.1,1016.3 409.4,1016.2 409.7,1016.1 410.0,1016.0 410.3,1015.9 410.6,1015.8 410.9,1015.7 411.2,1015.6 411.5,1015.5 411.8,1015.4 412.1,1015.3 412.4,1015.2 412.7,1015.1 413.0,1015.0 413.3,1014.9 413.6,1014.8 413.9,1014.7 414.2,1014.6 414.5,1014.5 414.8,1014.4 415.1,1014.3 415.4,1014.2 415.7,1014.2 416.0,1014.1 416.3,1014.1 416.6,1014.0 416.9,1014.0 417.2,1013.9 417.5,1013.9 417.8,1013.8 418.1,1013.8 418.4,1013.7 418.7,1013.7 419.0,1013.6 419.3,1013.6 419.6,1013.5 419.9,1013.5 420.2,1013.4 420.4,1013.4 420.7,1013.3 421.0,1013.3 421.3,1013.2 421.6,1013.2 421.9,1013.1 422.2,1013.1 422.5,1013.0 422.8,1013.0 423.1,1012.9 423.4,1012.9 423.7,1012.8 424.0,1012.8 424.3,1012.7 424.6,1012.7 424.9,1012.6 424.9,848.1 426.1,848.9 427.3,849.5 428.5,850.1 429.7,850.6 430.9,851.0 432.1,851.3 433.3,851.6 434.5,851.9 435.7,852.2 436.8,852.5 438.0,852.7 439.2,853.0 440.4,853.2 441.6,853.4 442.8,853.6 444.0,853.9 445.2,854.1 446.4,854.3 447.6,854.5 448.8,854.7 450.0,854.9 451.2,855.1 452.4,855.3 453.6,855.5 454.7,855.7 455.9,855.9 457.1,856.1 458.3,856.3 459.5,856.5 460.7,856.7 461.9,856.9 463.1,857.1 464.3,857.3 465.5,857.5 466.7,857.7 467.9,857.9 469.1,858.1 470.3,858.3 471.4,858.5 472.6,858.7 473.8,858.9 475.0,859.1 476.2,859.3 477.4,859.5 478.6,859.7 478.6,1131.1 478.9,1131.0 479.2,1127.2 479.5,1122.5 479.8,1117.7 480.1,1113.0 480.4,1108.2 480.7,1103.4 481.0,1098.7 481.3,1093.9 481.6,1089.1 481.9,1083.2 482.2,1077.2 482.5,1071.3 482.8,1067.2 483.1,1063.5 483.4,1059.7 483.7,1057.1 484.0,1055.0 484.3,1052.8 484.6,1056.6 484.9,1054.2 485.2,1052.0 485.5,1051.0 485.8,1049.9 486.1,1048.9 486.4,1047.9 486.7,1046.9 487.0,1045.8 487.3,1044.8 487.6,1043.8 487.9,1042.8 488.2,1041.9 488.4,1041.1 488.7,1040.3 489.0,1039.5 489.3,1038.7 489.6,1038.0 489.9,1037.2 490.2,1036.4 490.5,1035.6 490.8,1035.2 491.1,1034.7 491.4,1034.2 491.7,1033.8 492.0,1033.3 492.3,1032.8 492.6,1032.3 492.9,1031.9 493.2,1031.4 493.5,1030.9 493.8,1030.6 494.1,1030.3 494.4,1029.9 494.7,1029.6 495.0,1029.3 495.3,1029.0 495.6,1028.7 495.9,1028.3 496.2,1028.0 496.5,1027.7 496.8,1027.4 497.1,1027.0 497.4,1026.7 497.7,1026.4 498.0,1026.1 498.3,1025.8 498.6,1025.4 498.9,1025.1 499.2,1024.8 499.5,1024.6 499.8,1024.4 500.1,1024.2 500.4,1024.0 500.7,1023.8 501.0,1023.6 501.3,1023.4 501.6,1023.2 501.9,1023.0 502.2,1022.8 502.5,1022.6 502.8,1022.4 503.1,1022.2 503.4,1022.0 503.7,1021.8 504.0,1021.6 504.3,1021.4 504.6,1021.2 504.9,1021.0 505.2,1020.8 505.5,1020.7 505.8,1020.5 506.0,1020.4 506.3,1020.3 506.6,1020.2 506.9,1020.0 507.2,1019.9 507.5,1019.8 507.8,1019.7 508.1,1019.5 508.4,1019.4 508.7,1019.3 509.0,1019.2 509.3,1019.0 509.6,1018.9 509.9,1018.8 510.2,1018.7 510.5,1018.5 510.8,1018.4 511.1,1018.3 511.4,1018.2 511.7,1018.0 512.0,1017.9 512.3,1017.8 512.6,1017.6 512.9,1017.5 513.2,1017.4 513.5,1017.3 513.8,1017.1 514.1,1017.0 514.4,1016.9 514.7,1016.8 515.0,1016.7 515.3,1016.6 515.6,1016.5 515.9,1016.4 516.2,1016.3 516.5,1016.2 516.8,1016.1 517.1,1016.0 517.4,1015.9 517.7,1015.8 518.0,1015.7 518.3,1015.6 518.6,1015.5 518.9,1015.4 519.2,1015.3 519.5,1015.2 519.8,1015.1 520.1,1015.0 520.4,1014.9 520.7,1014.7 521.0,1014.6 521.3,1014.5 521.6,1014.4 521.9,1014.3 522.2,1014.3 522.5,1014.2 522.8,1014.2 523.1,1014.1 523.3,1014.1 523.6,1014.0 523.9,1014.0 524.2,1013.9 524.5,1013.9 524.8,1013.8 525.1,1013.8 525.4,1013.7 525.7,1013.7 526.0,1013.6 526.3,1013.6 526.6,1013.5 526.9,1013.5 527.2,1013.4 527.5,1013.4 527.8,1013.3 528.1,1013.3 528.4,1013.2 528.7,1013.2 529.0,1013.1 529.3,1013.1 529.6,1013.0 529.9,1013.0 530.2,1012.9 530.5,1012.9 530.8,1012.8 531.1,1012.7 531.4,1012.7 531.7,1012.6 531.7,848.1 532.9,848.9 534.1,849.5 535.3,850.1 536.5,850.6 537.7,851.0 538.9,851.3 540.1,851.7 541.3,852.0 542.5,852.2 543.7,852.5 544.9,852.7 546.0,853.0 547.2,853.2 548.4,853.4 549.6,853.6 550.8,853.9 552.0,854.1 553.2,854.3 554.4,854.5 555.6,854.7 556.8,854.9 558.0,855.1 559.2,855.3 560.4,855.5 561.6,855.7 562.8,855.9 564.0,856.1 565.2,856.3 566.4,856.5 567.6,856.7 568.8,856.9 570.0,857.1 571.2,857.3 572.4,857.5 573.6,857.7 574.7,857.9 575.9,858.1 577.1,858.3 578.3,858.5 579.5,858.7 580.7,858.9 581.9,859.2 583.1,859.4 584.3,859.6 585.5,859.7 585.5,1127.3 585.8,1131.0 586.1,1127.2 586.4,1122.5 586.7,1117.7 587.0,1113.0 587.3,1108.2 587.6,1103.5 587.9,1098.7 588.2,1094.0 588.5,1089.2 588.8,1083.2 589.1,1077.3 589.4,1071.3 589.7,1067.3 590.0,1063.5 590.3,1059.8 590.6,1057.1 590.9,1055.0 591.2,1052.9 591.5,1056.6 591.8,1054.3 592.1,1052.0 592.4,1051.0 592.7,1050.0 593.0,1048.9 593.3,1047.9 593.6,1046.9 593.9,1045.9 594.1,1044.9 594.4,1043.8 594.7,1042.8 595.0,1041.9 595.3,1041.1 595.6,1040.3 595.9,1039.6 596.2,1038.8 596.5,1038.0 596.8,1037.2 597.1,1036.4 597.4,1035.7 597.7,1035.2 598.0,1034.7 598.3,1034.3 598.6,1033.8 598.9,1033.3 599.2,1032.8 599.5,1032.4 599.8,1031.9 600.1,1031.4 600.4,1031.0 600.7,1030.6 601.0,1030.3 601.3,1030.0 601.6,1029.6 601.9,1029.3 602.2,1029.0 602.5,1028.7 602.8,1028.4 603.1,1028.0 603.4,1027.7 603.7,1027.4 604.0,1027.1 604.3,1026.7 604.6,1026.4 604.9,1026.1 605.2,1025.8 605.5,1025.5 605.8,1025.1 606.1,1024.8 606.4,1024.6 606.7,1024.4 607.0,1024.2 607.3,1024.0 607.6,1023.8 607.9,1023.6 608.2,1023.4 608.5,1023.2 608.7,1023.0 609.0,1022.8 609.3,1022.6 609.6,1022.4 609.9,1022.2 610.2,1022.0 610.5,1021.8 610.8,1021.6 611.1,1021.4 611.4,1021.2 611.7,1021.0 612.0,1020.8 612.3,1020.7 612.6,1020.6 612.9,1020.4 613.2,1020.3 613.5,1020.2 613.8,1020.1 614.1,1019.9 614.4,1019.8 614.7,1019.7 615.0,1019.6 615.3,1019.4 615.6,1019.3 615.9,1019.2 616.2,1019.0 616.5,1018.9 616.8,1018.8 617.1,1018.7 617.4,1018.5 617.7,1018.4 618.0,1018.3 618.3,1018.2 618.6,1018.0 618.9,1017.9 619.2,1017.8 619.5,1017.7 619.8,1017.5 620.1,1017.4 620.4,1017.3 620.7,1017.2 621.0,1017.0 621.3,1016.9 621.6,1016.8 621.9,1016.7 622.2,1016.6 622.5,1016.5 622.8,1016.4 623.0,1016.3 623.3,1016.2 623.6,1016.1 623.9,1016.0 624.2,1015.9 624.5,1015.8 624.8,1015.7 625.1,1015.6 625.4,1015.5 625.7,1015.4 626.0,1015.3 626.3,1015.2 626.6,1015.1 626.9,1015.0 627.2,1014.9 627.5,1014.8 627.8,1014.7 628.1,1014.6 628.4,1014.5 628.7,1014.4 629.0,1014.3 629.3,1014.2 629.6,1014.2 629.9,1014.1 630.2,1014.1 630.5,1014.0 630.8,1014.0 631.1,1013.9 631.4,1013.9 631.7,1013.8 632.0,1013.8 632.3,1013.7 632.6,1013.7 632.9,1013.6 633.2,1013.6 633.5,1013.5 633.8,1013.5 634.1,1013.4 634.4,1013.4 634.7,1013.3 635.0,1013.3 635.3,1013.2 635.6,1013.2 635.9,1013.1 636.2,1013.1 636.5,1013.0 636.8,1013.0 637.1,1012.9 637.4,1012.9 637.6,1012.8 637.9,1012.8 638.2,1012.7 638.5,1012.7 638.8,1012.6 638.8,848.1 640.0,848.9 641.2,849.6 642.4,850.1 643.6,850.6 644.8,851.0 646.1,851.3 647.3,851.7 648.5,852.0 649.7,852.2 650.9,852.5 652.1,852.8 653.3,853.0 654.5,853.2 655.7,853.4 656.9,853.7 658.1,853.9 659.3,854.1 660.5,854.3 661.7,854.5 662.9,854.7 664.1,854.9 665.3,855.1 666.5,855.3 667.7,855.5 668.9,855.7 670.1,855.9 671.3,856.1 672.5,856.4 673.7,856.6 674.9,856.8 676.1,857.0 677.3,857.2 678.5,857.4 679.7,857.6 680.9,857.8 682.1,858.0 683.3,858.2 684.5,858.4 685.7,858.6 686.9,858.8 688.1,859.0 689.3,859.2 690.5,859.4" fill="none" stroke="#000" stroke-width="2.2" stroke-linejoin="round" />
<polyline points="156.0,1001.6 209.5,1001.6 209.5,854.4 210.6,854.6 211.8,854.8 213.0,855.0 214.2,855.1 215.4,855.3 216.6,855.4 217.8,855.6 219.0,855.7 220.1,855.8 221.3,855.9 222.5,856.0 223.7,856.1 224.9,856.2 226.1,856.3 227.3,856.4 228.5,856.5 229.6,856.5 230.8,856.6 232.0,856.7 233.2,856.7 234.4,856.8 235.6,856.9 236.8,856.9 238.0,857.0 239.1,857.0 240.3,857.1 241.5,857.1 242.7,857.2 243.9,857.3 245.1,857.3 246.3,857.3 247.5,857.4 248.6,857.4 249.8,857.5 251.0,857.5 252.2,857.6 253.4,857.6 254.6,857.7 255.8,857.7 257.0,857.8 258.2,857.8 259.3,857.8 260.5,857.9 261.7,857.9 262.9,858.0 262.9,1115.9 263.2,1108.6 263.5,1097.5 263.8,1087.4 264.1,1077.8 264.4,1068.3 264.7,1059.0 265.0,1055.8 265.3,1052.6 265.6,1049.5 265.9,1046.3 266.2,1043.1 266.5,1040.0 266.8,1039.0 267.1,1037.9 267.4,1036.8 267.7,1035.8 268.0,1034.7 268.3,1033.6 268.6,1032.6 268.9,1031.5 269.2,1031.1 269.5,1030.7 269.8,1030.3 270.1,1029.8 270.4,1029.4 270.7,1029.0 271.0,1028.5 271.3,1028.1 271.6,1027.7 271.8,1027.3 272.1,1026.8 272.4,1026.4 272.7,1026.2 273.0,1026.0 273.3,1025.8 273.6,1025.6 273.9,1025.4 274.2,1025.3 274.5,1025.1 274.8,1024.9 275.1,1024.7 275.4,1024.5 275.7,1024.3 276.0,1024.1 276.3,1023.9 276.6,1023.8 276.9,1023.7 277.2,1023.6 277.5,1023.5 277.8,1023.5 278.1,1023.4 278.4,1023.3 278.7,1023.2 279.0,1023.2 279.3,1023.1 279.6,1023.0 279.9,1022.9 280.2,1022.9 280.5,1022.8 280.8,1022.7 281.1,1022.6 281.4,1022.6 281.7,1022.5 282.0,1022.4 282.3,1022.3 282.6,1022.3 282.9,1022.2 283.2,1022.1 283.5,1022.1 283.8,1022.0 284.1,1021.9 284.4,1021.8 284.7,1021.8 285.0,1021.7 285.3,1021.6 285.6,1021.5 285.9,1021.5 286.2,1021.5 286.5,1021.4 286.8,1021.4 287.1,1021.3 287.4,1021.3 287.7,1021.3 288.0,1021.2 288.3,1021.2 288.6,1021.1 288.8,1021.1 289.1,1021.1 289.4,1021.0 289.7,1021.0 290.0,1020.9 290.3,1020.9 290.6,1020.9 290.9,1020.8 291.2,1020.8 291.5,1020.7 291.8,1020.7 292.1,1020.7 292.4,1020.6 292.7,1020.6 293.0,1020.5 293.3,1020.5 293.6,1020.5 293.9,1020.4 294.2,1020.4 294.5,1020.3 294.8,1020.3 295.1,1020.3 295.4,1020.2 295.7,1020.2 296.0,1020.1 296.3,1020.1 296.6,1020.1 296.9,1020.0 297.2,1020.0 297.5,1019.9 297.8,1019.9 298.1,1019.9 298.4,1019.8 298.7,1019.8 299.0,1019.7 299.3,1019.7 299.6,1019.7 299.9,1019.6 300.2,1019.6 300.5,1019.5 300.8,1019.5 301.1,1019.5 301.4,1019.4 301.7,1019.4 302.0,1019.3 302.3,1019.3 302.6,1019.3 302.9,1019.2 303.2,1019.2 303.5,1019.2 303.8,1019.2 304.1,1019.2 304.4,1019.2 304.7,1019.1 305.0,1019.1 305.3,1019.1 305.6,1019.1 305.8,1019.1 306.1,1019.1 306.4,1019.1 306.7,1019.0 307.0,1019.0 307.3,1019.0 307.6,1019.0 307.9,1019.0 308.2,1019.0 308.5,1019.0 308.8,1018.9 309.1,1018.9 309.4,1018.9 309.7,1018.9 310.0,1018.9 310.3,1018.9 310.6,1018.8 310.9,1018.8 311.2,1018.8 311.5,1018.8 311.8,1018.8 312.1,1018.8 312.4,1018.8 312.7,1018.7 313.0,1018.7 313.3,1018.7 313.6,1018.7 313.9,1018.7 314.2,1018.7 314.5,1018.7 314.8,1018.6 315.1,1018.6 315.4,1018.6 315.7,1018.6 316.0,1018.6 316.3,1018.6 316.6,1018.5 316.9,1018.5 317.2,1018.5 317.5,1018.5 317.8,1018.5 317.8,853.4 319.0,853.8 320.2,854.0 321.4,854.2 322.6,854.4 323.8,854.6 325.0,854.8 326.1,854.9 327.3,855.0 328.5,855.1 329.7,855.2 330.9,855.3 332.1,855.4 333.3,855.5 334.5,855.6 335.7,855.7 336.9,855.8 338.1,855.9 339.3,856.0 340.5,856.0 341.7,856.1 342.9,856.2 344.1,856.3 345.3,856.4 346.5,856.5 347.7,856.5 348.9,856.6 350.1,856.7 351.3,856.8 352.5,856.9 353.6,857.0 354.8,857.0 356.0,857.1 357.2,857.2 358.4,857.3 359.6,857.4 360.8,857.5 362.0,857.5 363.2,857.6 364.4,857.7 365.6,857.8 366.8,857.9 368.0,858.0 369.2,858.0 370.4,858.1 371.6,858.2 371.6,1112.1 371.9,1108.6 372.2,1097.5 372.5,1087.4 372.8,1077.9 373.1,1068.4 373.4,1059.0 373.7,1055.8 374.0,1052.6 374.3,1049.5 374.6,1046.3 374.9,1043.1 375.2,1040.1 375.5,1039.0 375.8,1037.9 376.1,1036.8 376.4,1035.8 376.7,1034.7 376.9,1033.6 377.2,1032.6 377.5,1035.1 377.8,1034.6 378.1,1034.1 378.4,1033.6 378.7,1033.1 379.0,1032.7 379.3,1032.2 379.6,1031.7 379.9,1031.2 380.2,1030.8 380.5,1030.3 380.8,1029.8 381.1,1029.3 381.4,1029.1 381.7,1028.9 382.0,1028.7 382.3,1028.5 382.6,1028.2 382.9,1028.0 383.2,1027.8 383.5,1027.6 383.8,1027.4 384.1,1027.2 384.4,1026.9 384.7,1026.7 385.0,1026.5 385.3,1026.3 385.6,1026.3 385.9,1026.2 386.2,1026.1 386.5,1026.0 386.8,1025.9 387.1,1025.9 387.4,1025.8 387.7,1025.7 388.0,1025.6 388.3,1025.5 388.6,1025.4 388.9,1025.4 389.2,1025.3 389.5,1025.2 389.8,1025.1 390.1,1025.0 390.4,1024.9 390.7,1024.9 391.0,1024.8 391.3,1024.7 391.5,1024.6 391.8,1024.5 392.1,1024.4 392.4,1024.4 392.7,1024.3 393.0,1024.2 393.3,1024.1 393.6,1024.0 393.9,1023.9 394.2,1023.9 394.5,1023.8 394.8,1023.8 395.1,1023.7 395.4,1023.7 395.7,1023.6 396.0,1023.6 396.3,1023.5 396.6,1023.5 396.9,1023.5 397.2,1023.4 397.5,1023.4 397.8,1023.3 398.1,1023.3 398.4,1023.2 398.7,1023.2 399.0,1023.1 399.3,1023.1 399.6,1023.1 399.9,1023.0 400.2,1023.0 400.5,1022.9 400.8,1022.9 401.1,1022.8 401.4,1022.8 401.7,1022.7 402.0,1022.7 402.3,1022.6 402.6,1022.6 402.9,1022.6 403.2,1022.5 403.5,1022.5 403.8,1022.4 404.1,1022.4 404.4,1022.3 404.7,1022.3 405.0,1022.2 405.3,1022.2 405.6,1022.2 405.8,1022.1 406.1,1022.1 406.4,1022.0 406.7,1022.0 407.0,1021.9 407.3,1021.9 407.6,1021.8 407.9,1021.8 408.2,1021.8 408.5,1021.7 408.8,1021.7 409.1,1021.6 409.4,1021.6 409.7,1021.5 410.0,1021.5 410.3,1021.4 410.6,1021.4 410.9,1021.4 411.2,1021.3 411.5,1021.3 411.8,1021.3 412.1,1021.3 412.4,1021.2 412.7,1021.2 413.0,1021.2 413.3,1021.2 413.6,1021.2 413.9,1021.2 414.2,1021.1 414.5,1021.1 414.8,1021.1 415.1,1021.1 415.4,1021.1 415.7,1021.1 416.0,1021.0 416.3,1021.0 416.6,1021.0 416.9,1021.0 417.2,1021.0 417.5,1020.9 417.8,1020.9 418.1,1020.9 418.4,1020.9 418.7,1020.9 419.0,1020.9 419.3,1020.8 419.6,1020.8 419.9,1020.8 420.2,1020.8 420.4,1020.8 420.7,1020.8 421.0,1020.7 421.3,1020.7 421.6,1020.7 421.9,1020.7 422.2,1020.7 422.5,1020.7 422.8,1020.6 423.1,1020.6 423.4,1020.6 423.7,1020.6 424.0,1020.6 424.3,1020.6 424.6,1020.5 424.9,1020.5 424.9,853.4 426.1,853.8 427.3,854.0 428.5,854.2 429.7,854.4 430.9,854.6 432.1,854.7 433.3,854.9 434.5,855.0 435.7,855.1 436.8,855.2 438.0,855.3 439.2,855.4 440.4,855.5 441.6,855.6 442.8,855.7 444.0,855.8 445.2,855.9 446.4,856.0 447.6,856.0 448.8,856.1 450.0,856.2 451.2,856.3 452.4,856.4 453.6,856.5 454.7,856.5 455.9,856.6 457.1,856.7 458.3,856.8 459.5,856.9 460.7,857.0 461.9,857.0 463.1,857.1 464.3,857.2 465.5,857.3 466.7,857.4 467.9,857.5 469.1,857.5 470.3,857.6 471.4,857.7 472.6,857.8 473.8,857.9 475.0,857.9 476.2,858.0 477.4,858.1 478.6,858.2 478.6,1115.9 478.9,1108.6 479.2,1097.5 479.5,1087.3 479.8,1077.8 480.1,1068.3 480.4,1059.0 480.7,1055.8 481.0,1052.6 481.3,1049.4 481.6,1046.3 481.9,1043.1 482.2,1040.0 482.5,1039.0 482.8,1037.9 483.1,1036.8 483.4,1035.8 483.7,1034.7 484.0,1033.6 484.3,1032.5 484.6,1035.1 484.9,1034.6 485.2,1034.1 485.5,1033.6 485.8,1033.1 486.1,1032.7 486.4,1032.2 486.7,1031.7 487.0,1031.2 487.3,1030.7 487.6,1030.3 487.9,1029.8 488.2,1029.3 488.4,1029.1 488.7,1028.9 489.0,1028.7 489.3,1028.5 489.6,1028.2 489.9,1028.0 490.2,1027.8 490.5,1027.6 490.8,1027.4 491.1,1027.1 491.4,1026.9 491.7,1026.7 492.0,1026.5 492.3,1026.3 492.6,1026.3 492.9,1026.2 493.2,1026.1 493.5,1026.0 493.8,1025.9 494.1,1025.8 494.4,1025.8 494.7,1025.7 495.0,1025.6 495.3,1025.5 495.6,1025.4 495.9,1025.3 496.2,1025.3 496.5,1025.2 496.8,1025.1 497.1,1025.0 497.4,1024.9 497.7,1024.9 498.0,1024.8 498.3,1024.7 498.6,1024.6 498.9,1024.5 499.2,1024.4 499.5,1024.4 499.8,1024.3 500.1,1024.2 500.4,1024.1 500.7,1024.0 501.0,1023.9 501.3,1023.9 501.6,1023.8 501.9,1023.8 502.2,1023.7 502.5,1023.7 502.8,1023.6 503.1,1023.6 503.4,1023.5 503.7,1023.5 504.0,1023.4 504.3,1023.4 504.6,1023.4 504.9,1023.3 505.2,1023.3 505.5,1023.2 505.8,1023.2 506.0,1023.1 506.3,1023.1 506.6,1023.0 506.9,1023.0 507.2,1023.0 507.5,1022.9 507.8,1022.9 508.1,1022.8 508.4,1022.8 508.7,1022.7 509.0,1022.7 509.3,1022.6 509.6,1022.6 509.9,1022.6 510.2,1022.5 510.5,1022.5 510.8,1022.4 511.1,1022.4 511.4,1022.3 511.7,1022.3 512.0,1022.2 512.3,1022.2 512.6,1022.2 512.9,1022.1 513.2,1022.1 513.5,1022.0 513.8,1022.0 514.1,1021.9 514.4,1021.9 514.7,1021.8 515.0,1021.8 515.3,1021.7 515.6,1021.7 515.9,1021.7 516.2,1021.6 516.5,1021.6 516.8,1021.5 517.1,1021.5 517.4,1021.4 517.7,1021.4 518.0,1021.3 518.3,1021.3 518.6,1021.3 518.9,1021.3 519.2,1021.3 519.5,1021.2 519.8,1021.2 520.1,1021.2 520.4,1021.2 520.7,1021.2 521.0,1021.1 521.3,1021.1 521.6,1021.1 521.9,1021.1 522.2,1021.1 522.5,1021.1 522.8,1021.0 523.1,1021.0 523.3,1021.0 523.6,1021.0 523.9,1021.0 524.2,1021.0 524.5,1020.9 524.8,1020.9 525.1,1020.9 525.4,1020.9 525.7,1020.9 526.0,1020.9 526.3,1020.8 526.6,1020.8 526.9,1020.8 527.2,1020.8 527.5,1020.8 527.8,1020.8 528.1,1020.7 528.4,1020.7 528.7,1020.7 529.0,1020.7 529.3,1020.7 529.6,1020.7 529.9,1020.6 530.2,1020.6 530.5,1020.6 530.8,1020.6 531.1,1020.6 531.4,1020.6 531.7,1020.5 531.7,853.4 532.9,853.8 534.1,854.0 535.3,854.2 536.5,854.4 537.7,854.6 538.9,854.8 540.1,854.9 541.3,855.0 542.5,855.1 543.7,855.2 544.9,855.3 546.0,855.4 547.2,855.5 548.4,855.6 549.6,855.7 550.8,855.8 552.0,855.9 553.2,856.0 554.4,856.0 555.6,856.1 556.8,856.2 558.0,856.3 559.2,856.4 560.4,856.5 561.6,856.5 562.8,856.6 564.0,856.7 565.2,856.8 566.4,856.9 567.6,857.0 568.8,857.0 570.0,857.1 571.2,857.2 572.4,857.3 573.6,857.4 574.7,857.5 575.9,857.5 577.1,857.6 578.3,857.7 579.5,857.8 580.7,857.9 581.9,858.0 583.1,858.0 584.3,858.1 585.5,858.2 585.5,1112.1 585.8,1108.6 586.1,1097.5 586.4,1087.4 586.7,1077.9 587.0,1068.4 587.3,1059.0 587.6,1055.8 587.9,1052.6 588.2,1049.5 588.5,1046.3 588.8,1043.1 589.1,1040.1 589.4,1039.0 589.7,1037.9 590.0,1036.8 590.3,1035.8 590.6,1034.7 590.9,1033.6 591.2,1032.6 591.5,1035.1 591.8,1034.6 592.1,1034.1 592.4,1033.6 592.7,1033.1 593.0,1032.7 593.3,1032.2 593.6,1031.7 593.9,1031.2 594.1,1030.8 594.4,1030.3 594.7,1029.8 595.0,1029.3 595.3,1029.1 595.6,1028.9 595.9,1028.7 596.2,1028.5 596.5,1028.2 596.8,1028.0 597.1,1027.8 597.4,1027.6 597.7,1027.4 598.0,1027.2 598.3,1026.9 598.6,1026.7 598.9,1026.5 599.2,1026.3 599.5,1026.3 599.8,1026.2 600.1,1026.1 600.4,1026.0 600.7,1025.9 601.0,1025.9 601.3,1025.8 601.6,1025.7 601.9,1025.6 602.2,1025.5 602.5,1025.4 602.8,1025.4 603.1,1025.3 603.4,1025.2 603.7,1025.1 604.0,1025.0 604.3,1024.9 604.6,1024.9 604.9,1024.8 605.2,1024.7 605.5,1024.6 605.8,1024.5 606.1,1024.4 606.4,1024.4 606.7,1024.3 607.0,1024.2 607.3,1024.1 607.6,1024.0 607.9,1023.9 608.2,1023.9 608.5,1023.8 608.7,1023.8 609.0,1023.7 609.3,1023.7 609.6,1023.6 609.9,1023.6 610.2,1023.5 610.5,1023.5 610.8,1023.5 611.1,1023.4 611.4,1023.4 611.7,1023.3 612.0,1023.3 612.3,1023.2 612.6,1023.2 612.9,1023.1 613.2,1023.1 613.5,1023.1 613.8,1023.0 614.1,1023.0 614.4,1022.9 614.7,1022.9 615.0,1022.8 615.3,1022.8 615.6,1022.7 615.9,1022.7 616.2,1022.6 616.5,1022.6 616.8,1022.6 617.1,1022.5 617.4,1022.5 617.7,1022.4 618.0,1022.4 618.3,1022.3 618.6,1022.3 618.9,1022.2 619.2,1022.2 619.5,1022.2 619.8,1022.1 620.1,1022.1 620.4,1022.0 620.7,1022.0 621.0,1021.9 621.3,1021.9 621.6,1021.8 621.9,1021.8 622.2,1021.8 622.5,1021.7 622.8,1021.7 623.0,1021.6 623.3,1021.6 623.6,1021.5 623.9,1021.5 624.2,1021.4 624.5,1021.4 624.8,1021.4 625.1,1021.3 625.4,1021.3 625.7,1021.3 626.0,1021.3 626.3,1021.2 626.6,1021.2 626.9,1021.2 627.2,1021.2 627.5,1021.2 627.8,1021.2 628.1,1021.1 628.4,1021.1 628.7,1021.1 629.0,1021.1 629.3,1021.1 629.6,1021.1 629.9,1021.0 630.2,1021.0 630.5,1021.0 630.8,1021.0 631.1,1021.0 631.4,1020.9 631.7,1020.9 632.0,1020.9 632.3,1020.9 632.6,1020.9 632.9,1020.9 633.2,1020.8 633.5,1020.8 633.8,1020.8 634.1,1020.8 634.4,1020.8 634.7,1020.8 635.0,1020.7 635.3,1020.7 635.6,1020.7 635.9,1020.7 636.2,1020.7 636.5,1020.7 636.8,1020.6 637.1,1020.6 637.4,1020.6 637.6,1020.6 637.9,1020.6 638.2,1020.6 638.5,1020.5 638.8,1020.5 638.8,853.4 640.0,853.8 641.2,854.0 642.4,854.2 643.6,854.4 644.8,854.6 646.1,854.8 647.3,854.9 648.5,855.0 649.7,855.1 650.9,855.2 652.1,855.3 653.3,855.4 654.5,855.5 655.7,855.6 656.9,855.7 658.1,855.8 659.3,855.9 660.5,856.0 661.7,856.1 662.9,856.1 664.1,856.2 665.3,856.3 666.5,856.4 667.7,856.5 668.9,856.6 670.1,856.6 671.3,856.7 672.5,856.8 673.7,856.9 674.9,857.0 676.1,857.1 677.3,857.1 678.5,857.2 679.7,857.3 680.9,857.4 682.1,857.5 683.3,857.6 684.5,857.6 685.7,857.7 686.9,857.8 688.1,857.9 689.3,858.0 690.5,858.1" fill="none" stroke="#f00" stroke-width="2.2" stroke-dasharray="13.4,13.3" stroke-linejoin="round" />
<polyline points="156.0,1001.6 209.5,1001.6 209.5,858.2 210.6,858.3 211.8,858.4 213.0,858.5 214.2,858.6 215.4,858.7 216.6,858.7 217.8,858.8 219.0,858.9 220.1,858.9 221.3,859.0 222.5,859.0 223.7,859.1 224.9,859.1 226.1,859.2 227.3,859.2 228.5,859.3 229.6,859.3 230.8,859.3 232.0,859.4 233.2,859.4 234.4,859.5 235.6,859.5 236.8,859.5 238.0,859.5 239.1,859.6 240.3,859.6 241.5,859.6 242.7,859.7 243.9,859.7 245.1,859.7 246.3,859.7 247.5,859.8 248.6,859.8 249.8,859.8 251.0,859.8 252.2,859.9 253.4,859.9 254.6,859.9 255.8,859.9 257.0,860.0 258.2,860.0 259.3,860.0 260.5,860.0 261.7,860.0 262.9,860.1 262.9,1106.4 263.2,1122.2 263.5,1113.4 263.8,1105.1 264.1,1098.9 264.4,1092.7 264.7,1086.4 265.0,1080.2 265.3,1074.1 265.6,1070.9 265.9,1067.8 266.2,1064.6 266.5,1061.4 266.8,1058.2 267.1,1055.1 267.4,1053.3 267.7,1051.5 268.0,1049.7 268.3,1047.8 268.6,1046.0 268.9,1045.1 269.2,1044.4 269.5,1043.6 269.8,1042.8 270.1,1042.1 270.4,1041.3 270.7,1040.6 271.0,1039.8 271.3,1039.1 271.6,1038.8 271.8,1038.4 272.1,1038.1 272.4,1037.8 272.7,1037.4 273.0,1037.1 273.3,1036.7 273.6,1036.4 273.9,1036.1 274.2,1035.7 274.5,1035.4 274.8,1035.0 275.1,1034.7 275.4,1034.4 275.7,1034.2 276.0,1034.0 276.3,1033.8 276.6,1033.6 276.9,1033.3 277.2,1033.1 277.5,1032.9 277.8,1032.7 278.1,1032.5 278.4,1032.3 278.7,1032.1 279.0,1031.9 279.3,1031.7 279.6,1031.5 279.9,1031.3 280.2,1031.1 280.5,1030.9 280.8,1030.7 281.1,1030.5 281.4,1030.3 281.7,1030.1 282.0,1029.8 282.3,1029.6 282.6,1029.4 282.9,1029.2 283.2,1029.0 283.5,1028.9 283.8,1028.8 284.1,1028.7 284.4,1028.6 284.7,1028.5 285.0,1028.4 285.3,1028.3 285.6,1028.2 285.9,1028.1 286.2,1028.0 286.5,1027.9 286.8,1027.8 287.1,1027.7 287.4,1027.7 287.7,1027.6 288.0,1027.5 288.3,1027.4 288.6,1027.3 288.8,1027.2 289.1,1027.1 289.4,1027.0 289.7,1026.9 290.0,1026.8 290.3,1026.7 290.6,1026.6 290.9,1026.5 291.2,1026.4 291.5,1026.3 291.8,1026.2 292.1,1026.1 292.4,1026.1 292.7,1026.0 293.0,1025.9 293.3,1025.8 293.6,1025.7 293.9,1025.6 294.2,1025.6 294.5,1025.5 294.8,1025.4 295.1,1025.3 295.4,1025.2 295.7,1025.1 296.0,1025.1 296.3,1025.0 296.6,1024.9 296.9,1024.8 297.2,1024.7 297.5,1024.6 297.8,1024.6 298.1,1024.5 298.4,1024.4 298.7,1024.3 299.0,1024.2 299.3,1024.1 299.6,1024.1 299.9,1024.0 300.2,1023.9 300.5,1023.8 300.8,1023.7 301.1,1023.7 301.4,1023.6 301.7,1023.5 302.0,1023.4 302.3,1023.3 302.6,1023.2 302.9,1023.2 303.2,1023.2 303.5,1023.1 303.8,1023.1 304.1,1023.0 304.4,1023.0 304.7,1022.9 305.0,1022.9 305.3,1022.9 305.6,1022.8 305.8,1022.8 306.1,1022.7 306.4,1022.7 306.7,1022.7 307.0,1022.6 307.3,1022.6 307.6,1022.5 307.9,1022.5 308.2,1022.4 308.5,1022.4 308.8,1022.4 309.1,1022.3 309.4,1022.3 309.7,1022.2 310.0,1022.2 310.3,1022.2 310.6,1022.1 310.9,1022.1 311.2,1022.0 311.5,1022.0 311.8,1021.9 312.1,1021.9 312.4,1021.9 312.7,1021.8 313.0,1021.8 313.3,1021.7 313.6,1021.7 313.9,1021.7 314.2,1021.6 314.5,1021.6 314.8,1021.5 315.1,1021.5 315.4,1021.4 315.7,1021.4 316.0,1021.4 316.3,1021.3 316.6,1021.3 316.9,1021.2 317.2,1021.2 317.5,1021.2 317.8,1021.2 317.8,858.2 319.0,858.6 320.2,859.0 321.4,859.3 322.6,859.5 323.8,859.8 325.0,860.0 326.1,860.1 327.3,860.3 328.5,860.5 329.7,860.6 330.9,860.7 332.1,860.9 333.3,861.0 334.5,861.1 335.7,861.3 336.9,861.4 338.1,861.5 339.3,861.6 340.5,861.7 341.7,861.8 342.9,862.0 344.1,862.1 345.3,862.2 346.5,862.3 347.7,862.4 348.9,862.5 350.1,862.6 351.3,862.7 352.5,862.9 353.6,863.0 354.8,863.1 356.0,863.2 357.2,863.3 358.4,863.4 359.6,863.5 360.8,863.6 362.0,863.8 363.2,863.9 364.4,864.0 365.6,864.1 366.8,864.2 368.0,864.3 369.2,864.4 370.4,864.5 371.6,864.6 371.6,1130.1 371.9,1122.2 372.2,1113.4 372.5,1105.1 372.8,1098.9 373.1,1092.7 373.4,1086.5 373.7,1080.3 374.0,1074.1 374.3,1071.0 374.6,1067.8 374.9,1064.6 375.2,1061.4 375.5,1058.3 375.8,1055.2 376.1,1053.3 376.4,1051.5 376.7,1049.7 376.9,1047.9 377.2,1046.0 377.5,1050.3 377.8,1049.4 378.1,1048.6 378.4,1047.7 378.7,1046.9 379.0,1046.0 379.3,1045.2 379.6,1044.4 379.9,1043.6 380.2,1043.2 380.5,1042.8 380.8,1042.4 381.1,1042.0 381.4,1041.6 381.7,1041.3 382.0,1040.9 382.3,1040.5 382.6,1040.1 382.9,1039.7 383.2,1039.4 383.5,1039.0 383.8,1038.6 384.1,1038.2 384.4,1038.0 384.7,1037.8 385.0,1037.6 385.3,1037.3 385.6,1037.1 385.9,1036.9 386.2,1036.6 386.5,1036.4 386.8,1036.2 387.1,1035.9 387.4,1035.7 387.7,1035.5 388.0,1035.3 388.3,1035.0 388.6,1034.8 388.9,1034.6 389.2,1034.3 389.5,1034.1 389.8,1033.9 390.1,1033.6 390.4,1033.4 390.7,1033.2 391.0,1032.9 391.3,1032.7 391.5,1032.5 391.8,1032.3 392.1,1032.1 392.4,1032.0 392.7,1031.9 393.0,1031.8 393.3,1031.7 393.6,1031.6 393.9,1031.5 394.2,1031.3 394.5,1031.2 394.8,1031.1 395.1,1031.0 395.4,1030.9 395.7,1030.8 396.0,1030.7 396.3,1030.6 396.6,1030.5 396.9,1030.4 397.2,1030.3 397.5,1030.2 397.8,1030.1 398.1,1030.0 398.4,1029.9 398.7,1029.8 399.0,1029.7 399.3,1029.6 399.6,1029.5 399.9,1029.3 400.2,1029.2 400.5,1029.1 400.8,1029.0 401.1,1028.9 401.4,1028.8 401.7,1028.7 402.0,1028.7 402.3,1028.6 402.6,1028.5 402.9,1028.4 403.2,1028.3 403.5,1028.2 403.8,1028.1 404.1,1028.0 404.4,1027.9 404.7,1027.8 405.0,1027.7 405.3,1027.6 405.6,1027.5 405.8,1027.4 406.1,1027.4 406.4,1027.3 406.7,1027.2 407.0,1027.1 407.3,1027.0 407.6,1026.9 407.9,1026.8 408.2,1026.7 408.5,1026.6 408.8,1026.5 409.1,1026.4 409.4,1026.3 409.7,1026.2 410.0,1026.1 410.3,1026.1 410.6,1026.0 410.9,1025.9 411.2,1025.8 411.5,1025.7 411.8,1025.7 412.1,1025.6 412.4,1025.6 412.7,1025.5 413.0,1025.5 413.3,1025.4 413.6,1025.4 413.9,1025.3 414.2,1025.3 414.5,1025.3 414.8,1025.2 415.1,1025.2 415.4,1025.1 415.7,1025.1 416.0,1025.0 416.3,1025.0 416.6,1024.9 416.9,1024.9 417.2,1024.8 417.5,1024.8 417.8,1024.7 418.1,1024.7 418.4,1024.7 418.7,1024.6 419.0,1024.6 419.3,1024.5 419.6,1024.5 419.9,1024.4 420.2,1024.4 420.4,1024.3 420.7,1024.3 421.0,1024.2 421.3,1024.2 421.6,1024.1 421.9,1024.1 422.2,1024.0 422.5,1024.0 422.8,1024.0 423.1,1023.9 423.4,1023.9 423.7,1023.8 424.0,1023.8 424.3,1023.7 424.6,1023.7 424.9,1023.6 424.9,858.2 426.1,858.6 427.3,859.0 428.5,859.3 429.7,859.5 430.9,859.8 432.1,860.0 433.3,860.1 434.5,860.3 435.7,860.5 436.8,860.6 438.0,860.7 439.2,860.9 440.4,861.0 441.6,861.1 442.8,861.2 444.0,861.4 445.2,861.5 446.4,861.6 447.6,861.7 448.8,861.8 450.0,861.9 451.2,862.1 452.4,862.2 453.6,862.3 454.7,862.4 455.9,862.5 457.1,862.6 458.3,862.7 459.5,862.8 460.7,863.0 461.9,863.1 463.1,863.2 464.3,863.3 465.5,863.4 466.7,863.5 467.9,863.6 469.1,863.7 470.3,863.9 471.4,864.0 472.6,864.1 473.8,864.2 475.0,864.3 476.2,864.4 477.4,864.5 478.6,864.6 478.6,1131.1 478.9,1122.2 479.2,1113.4 479.5,1105.1 479.8,1098.9 480.1,1092.7 480.4,1086.4 480.7,1080.2 481.0,1074.1 481.3,1070.9 481.6,1067.8 481.9,1064.6 482.2,1061.4 482.5,1058.2 482.8,1055.1 483.1,1053.3 483.4,1051.5 483.7,1049.7 484.0,1047.8 484.3,1046.0 484.6,1050.3 484.9,1049.4 485.2,1048.6 485.5,1047.7 485.8,1046.9 486.1,1046.0 486.4,1045.2 486.7,1044.3 487.0,1043.5 487.3,1043.2 487.6,1042.8 487.9,1042.4 488.2,1042.0 488.4,1041.6 488.7,1041.3 489.0,1040.9 489.3,1040.5 489.6,1040.1 489.9,1039.7 490.2,1039.4 490.5,1039.0 490.8,1038.6 491.1,1038.2 491.4,1038.0 491.7,1037.8 492.0,1037.5 492.3,1037.3 492.6,1037.1 492.9,1036.9 493.2,1036.6 493.5,1036.4 493.8,1036.2 494.1,1035.9 494.4,1035.7 494.7,1035.5 495.0,1035.2 495.3,1035.0 495.6,1034.8 495.9,1034.5 496.2,1034.3 496.5,1034.1 496.8,1033.9 497.1,1033.6 497.4,1033.4 497.7,1033.2 498.0,1032.9 498.3,1032.7 498.6,1032.5 498.9,1032.2 499.2,1032.1 499.5,1032.0 499.8,1031.9 500.1,1031.8 500.4,1031.7 500.7,1031.5 501.0,1031.4 501.3,1031.3 501.6,1031.2 501.9,1031.1 502.2,1031.0 502.5,1030.9 502.8,1030.8 503.1,1030.7 503.4,1030.6 503.7,1030.5 504.0,1030.4 504.3,1030.3 504.6,1030.2 504.9,1030.1 505.2,1030.0 505.5,1029.9 505.8,1029.8 506.0,1029.7 506.3,1029.5 506.6,1029.4 506.9,1029.3 507.2,1029.2 507.5,1029.1 507.8,1029.0 508.1,1028.9 508.4,1028.8 508.7,1028.7 509.0,1028.6 509.3,1028.5 509.6,1028.5 509.9,1028.4 510.2,1028.3 510.5,1028.2 510.8,1028.1 511.1,1028.0 511.4,1027.9 511.7,1027.8 512.0,1027.7 512.3,1027.6 512.6,1027.5 512.9,1027.4 513.2,1027.3 513.5,1027.2 513.8,1027.2 514.1,1027.1 514.4,1027.0 514.7,1026.9 515.0,1026.8 515.3,1026.7 515.6,1026.6 515.9,1026.5 516.2,1026.4 516.5,1026.3 516.8,1026.2 517.1,1026.1 517.4,1026.0 517.7,1025.9 518.0,1025.9 518.3,1025.8 518.6,1025.7 518.9,1025.7 519.2,1025.6 519.5,1025.6 519.8,1025.5 520.1,1025.5 520.4,1025.4 520.7,1025.4 521.0,1025.3 521.3,1025.3 521.6,1025.2 521.9,1025.2 522.2,1025.2 522.5,1025.1 522.8,1025.1 523.1,1025.0 523.3,1025.0 523.6,1024.9 523.9,1024.9 524.2,1024.8 524.5,1024.8 524.8,1024.7 525.1,1024.7 525.4,1024.6 525.7,1024.6 526.0,1024.5 526.3,1024.5 526.6,1024.5 526.9,1024.4 527.2,1024.4 527.5,1024.3 527.8,1024.3 528.1,1024.2 528.4,1024.2 528.7,1024.1 529.0,1024.1 529.3,1024.0 529.6,1024.0 529.9,1023.9 530.2,1023.9 530.5,1023.9 530.8,1023.8 531.1,1023.8 531.4,1023.7 531.7,1023.7 531.7,858.2 532.9,858.6 534.1,859.0 535.3,859.3 536.5,859.5 537.7,859.8 538.9,860.0 540.1,860.1 541.3,860.3 542.5,860.5 543.7,860.6 544.9,860.7 546.0,860.9 547.2,861.0 548.4,861.1 549.6,861.3 550.8,861.4 552.0,861.5 553.2,861.6 554.4,861.7 555.6,861.8 556.8,862.0 558.0,862.1 559.2,862.2 560.4,862.3 561.6,862.4 562.8,862.5 564.0,862.6 565.2,862.7 566.4,862.9 567.6,863.0 568.8,863.1 570.0,863.2 571.2,863.3 572.4,863.4 573.6,863.5 574.7,863.6 575.9,863.8 577.1,863.9 578.3,864.0 579.5,864.1 580.7,864.2 581.9,864.3 583.1,864.4 584.3,864.5 585.5,864.6 585.5,1127.3 585.8,1122.2 586.1,1113.4 586.4,1105.1 586.7,1098.9 587.0,1092.7 587.3,1086.5 587.6,1080.3 587.9,1074.1 588.2,1071.0 588.5,1067.8 588.8,1064.6 589.1,1061.4 589.4,1058.3 589.7,1055.2 590.0,1053.3 590.3,1051.5 590.6,1049.7 590.9,1047.9 591.2,1046.0 591.5,1050.3 591.8,1049.4 592.1,1048.6 592.4,1047.7 592.7,1046.9 593.0,1046.0 593.3,1045.2 593.6,1044.4 593.9,1043.6 594.1,1043.2 594.4,1042.8 594.7,1042.4 595.0,1042.0 595.3,1041.6 595.6,1041.3 595.9,1040.9 596.2,1040.5 596.5,1040.1 596.8,1039.7 597.1,1039.4 597.4,1039.0 597.7,1038.6 598.0,1038.2 598.3,1038.0 598.6,1037.8 598.9,1037.6 599.2,1037.3 599.5,1037.1 599.8,1036.9 600.1,1036.6 600.4,1036.4 600.7,1036.2 601.0,1035.9 601.3,1035.7 601.6,1035.5 601.9,1035.3 602.2,1035.0 602.5,1034.8 602.8,1034.6 603.1,1034.3 603.4,1034.1 603.7,1033.9 604.0,1033.6 604.3,1033.4 604.6,1033.2 604.9,1032.9 605.2,1032.7 605.5,1032.5 605.8,1032.3 606.1,1032.1 606.4,1032.0 606.7,1031.9 607.0,1031.8 607.3,1031.7 607.6,1031.6 607.9,1031.5 608.2,1031.3 608.5,1031.2 608.7,1031.1 609.0,1031.0 609.3,1030.9 609.6,1030.8 609.9,1030.7 610.2,1030.6 610.5,1030.5 610.8,1030.4 611.1,1030.3 611.4,1030.2 611.7,1030.1 612.0,1030.0 612.3,1029.9 612.6,1029.8 612.9,1029.7 613.2,1029.6 613.5,1029.5 613.8,1029.3 614.1,1029.2 614.4,1029.1 614.7,1029.0 615.0,1028.9 615.3,1028.8 615.6,1028.7 615.9,1028.7 616.2,1028.6 616.5,1028.5 616.8,1028.4 617.1,1028.3 617.4,1028.2 617.7,1028.1 618.0,1028.0 618.3,1027.9 618.6,1027.8 618.9,1027.7 619.2,1027.6 619.5,1027.5 619.8,1027.4 620.1,1027.4 620.4,1027.3 620.7,1027.2 621.0,1027.1 621.3,1027.0 621.6,1026.9 621.9,1026.8 622.2,1026.7 622.5,1026.6 622.8,1026.5 623.0,1026.4 623.3,1026.3 623.6,1026.2 623.9,1026.1 624.2,1026.1 624.5,1026.0 624.8,1025.9 625.1,1025.8 625.4,1025.7 625.7,1025.7 626.0,1025.6 626.3,1025.6 626.6,1025.5 626.9,1025.5 627.2,1025.4 627.5,1025.4 627.8,1025.3 628.1,1025.3 628.4,1025.3 628.7,1025.2 629.0,1025.2 629.3,1025.1 629.6,1025.1 629.9,1025.0 630.2,1025.0 630.5,1024.9 630.8,1024.9 631.1,1024.8 631.4,1024.8 631.7,1024.7 632.0,1024.7 632.3,1024.7 632.6,1024.6 632.9,1024.6 633.2,1024.5 633.5,1024.5 633.8,1024.4 634.1,1024.4 634.4,1024.3 634.7,1024.3 635.0,1024.2 635.3,1024.2 635.6,1024.1 635.9,1024.1 636.2,1024.0 636.5,1024.0 636.8,1024.0 637.1,1023.9 637.4,1023.9 637.6,1023.8 637.9,1023.8 638.2,1023.7 638.5,1023.7 638.8,1023.6 638.8,858.2 640.0,858.6 641.2,859.0 642.4,859.3 643.6,859.5 644.8,859.8 646.1,860.0 647.3,860.1 648.5,860.3 649.7,860.5 650.9,860.6 652.1,860.8 653.3,860.9 654.5,861.0 655.7,861.1 656.9,861.3 658.1,861.4 659.3,861.5 660.5,861.6 661.7,861.7 662.9,861.8 664.1,862.0 665.3,862.1 666.5,862.2 667.7,862.3 668.9,862.4 670.1,862.5 671.3,862.6 672.5,862.8 673.7,862.9 674.9,863.0 676.1,863.1 677.3,863.2 678.5,863.3 679.7,863.4 680.9,863.6 682.1,863.7 683.3,863.8 684.5,863.9 685.7,864.0 686.9,864.1 688.1,864.2 689.3,864.3 690.5,864.5" fill="none" stroke="#00f" stroke-width="2.2" stroke-dasharray="15.7,7.4,2.6,7.4" stroke-linejoin="round" />
<rect x="209.0" y="808.5" width="3" height="16.899999999999977" fill="#009a00"/>
<polygon points="202.5,823.4 218.5,823.4 210.5,839.2" fill="#009a00"/>
<rect x="260.8" y="808.5" width="3" height="29.200000000000045" fill="#009a00"/>
<polygon points="254.3,835.7 270.3,835.7 262.3,851.5" fill="#009a00"/>
<text transform="translate(180.50,808.00) scale(1.0,1)" font-size="27" font-weight="bold" text-anchor="start" fill="#000" >ON</text>
<text transform="translate(252.50,808.00) scale(1.0,1)" font-size="27" font-weight="bold" text-anchor="start" fill="#000" >OFF</text>
<polyline points="263,1140.5 263,1144.4 319.4,1144.4 319.4,1140.5" fill="none" stroke="#000" stroke-width="2"/>
<line x1="291.40" y1="1144.40" x2="291.40" y2="1157.00" stroke="#000" stroke-width="1.8"/>
<text transform="translate(272.80,1175.60) scale(1.0,1)" font-size="27" font-weight="bold" text-anchor="start" fill="#000" >NC</text>
<text transform="translate(152.20,1082.00) scale(1.0,1)" font-size="21" font-weight="bold" text-anchor="start" fill="#000" letter-spacing="1.3">Bending</text>
<polyline points="144.7,1102.1 199.7,1102.1" fill="none" stroke="#000" stroke-width="2.6" stroke-linejoin="round" />
<text transform="translate(242.00,1110.70) scale(1.0,1)" font-size="20.5" font-weight="bold" text-anchor="end" fill="#000" letter-spacing="0.6">1</text>
<polyline points="144.7,1132.0 199.7,1132.0" fill="none" stroke="#f00" stroke-width="2.6" stroke-dasharray="13.4,13.3" stroke-linejoin="round" />
<text transform="translate(242.00,1140.60) scale(1.0,1)" font-size="20.5" font-weight="bold" text-anchor="end" fill="#000" letter-spacing="0.6">100</text>
<polyline points="144.7,1160.6 199.7,1160.6" fill="none" stroke="#00f" stroke-width="2.6" stroke-dasharray="15.7,7.4,2.6,7.4" stroke-linejoin="round" />
<text transform="translate(242.00,1169.20) scale(1.0,1)" font-size="20.5" font-weight="bold" text-anchor="end" fill="#000" letter-spacing="0.6">300</text>
</svg></body></html>
